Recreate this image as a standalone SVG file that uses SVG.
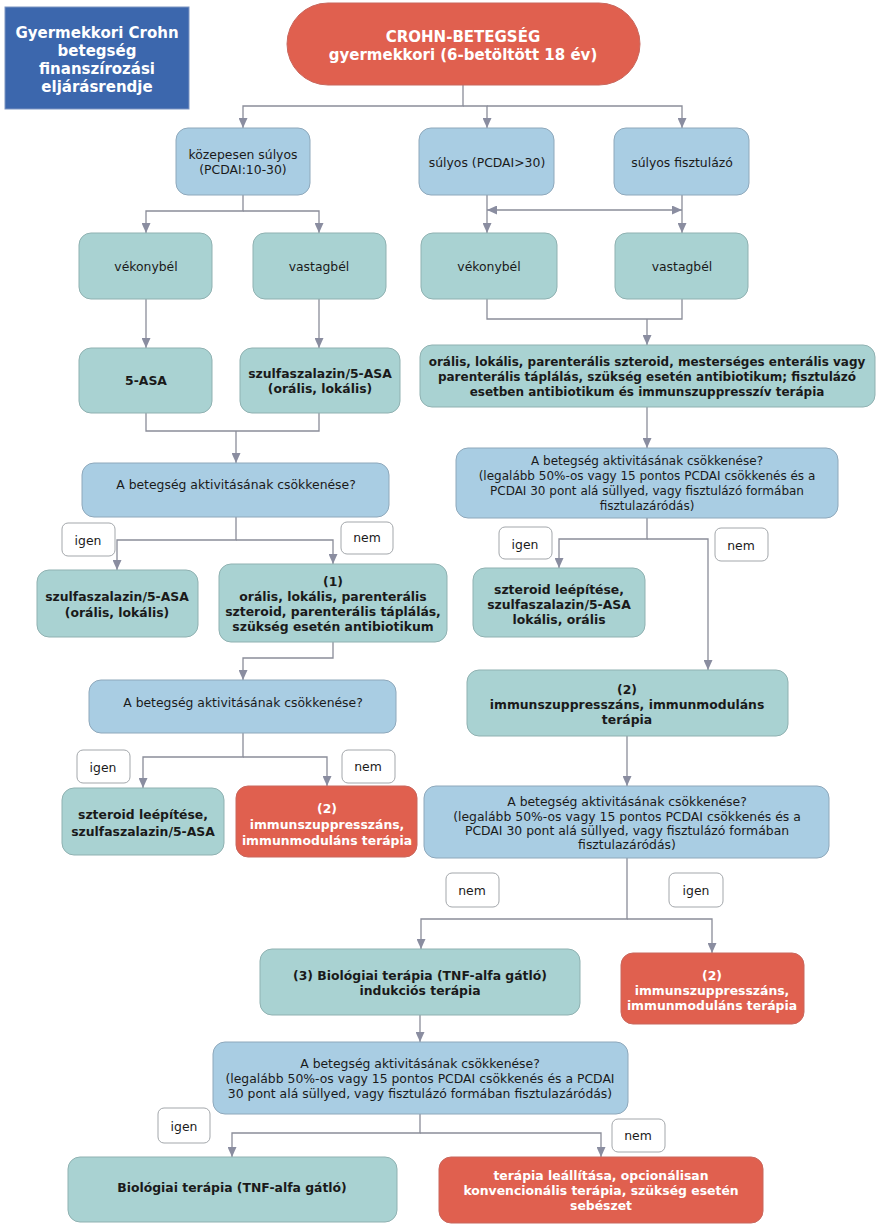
<svg xmlns="http://www.w3.org/2000/svg" width="878" height="1228" viewBox="0 0 878 1228">
<style>
.bl{fill:#a9cde3;stroke:#8ea8bb;stroke-width:1}
.tl{fill:#a9d2d2;stroke:#8fb1b1;stroke-width:1}
.rd{fill:#e0604f;stroke:#c9675d;stroke-width:1}
.lb{fill:#ffffff;stroke:#a3a7ab;stroke-width:1}
.c{fill:none;stroke:#8a8d99;stroke-width:1.3}
text{font-family:"DejaVu Sans","Verdana",sans-serif;text-anchor:middle;font-size:12.4px;fill:#1a1a1a}
.b{font-weight:bold;font-size:12.4px}
.w{font-weight:bold;fill:#ffffff;font-size:12.4px}
.t{font-size:15px}
</style>
<defs>
<marker id="ah" viewBox="0 0 10 9" refX="10" refY="4.5" markerWidth="10" markerHeight="9" markerUnits="userSpaceOnUse" orient="auto-start-reverse">
<path d="M0,0 L10,4.5 L0,9 z" fill="#8a8da0"/>
</marker>
</defs>
<rect width="878" height="1228" fill="#ffffff"/>

<g id="connectors">
<path class="c" d="M463,85 V106 H243 V128" marker-end="url(#ah)"/>
<path class="c" d="M463,106 H487 V128" marker-end="url(#ah)"/>
<path class="c" d="M487,106 H682 V128" marker-end="url(#ah)"/>
<path class="c" d="M243,195 V211 H146 V233" marker-end="url(#ah)"/>
<path class="c" d="M243,211 H319 V233" marker-end="url(#ah)"/>
<path class="c" d="M487,195 V233" marker-end="url(#ah)"/>
<path class="c" d="M682,195 V233" marker-end="url(#ah)"/>
<path class="c" d="M487,210 H682" marker-start="url(#ah)" marker-end="url(#ah)"/>
<path class="c" d="M146,299 V348" marker-end="url(#ah)"/>
<path class="c" d="M319,299 V348" marker-end="url(#ah)"/>
<path class="c" d="M487,299 V319 H682 V299"/>
<path class="c" d="M647,319 V345" marker-end="url(#ah)"/>
<path class="c" d="M146,413 V431 H319 V413"/>
<path class="c" d="M236,431 V463" marker-end="url(#ah)"/>
<path class="c" d="M647,407 V448" marker-end="url(#ah)"/>
<path class="c" d="M236,517 V540 H117 V570" marker-end="url(#ah)"/>
<path class="c" d="M236,540 H333 V564" marker-end="url(#ah)"/>
<path class="c" d="M647,518 V539 H559 V568" marker-end="url(#ah)"/>
<path class="c" d="M647,539 H708 V670" marker-end="url(#ah)"/>
<path class="c" d="M333,642 V658 H243 V680" marker-end="url(#ah)"/>
<path class="c" d="M243,733 V757 H143 V788" marker-end="url(#ah)"/>
<path class="c" d="M243,757 H327 V786" marker-end="url(#ah)"/>
<path class="c" d="M627,736 V786" marker-end="url(#ah)"/>
<path class="c" d="M627,858 V919 H421 V949" marker-end="url(#ah)"/>
<path class="c" d="M627,919 H712 V953" marker-end="url(#ah)"/>
<path class="c" d="M420,1015 V1042" marker-end="url(#ah)"/>
<path class="c" d="M420,1114 V1133 H232 V1157" marker-end="url(#ah)"/>
<path class="c" d="M420,1133 H601 V1157" marker-end="url(#ah)"/>
</g>

<g id="title">
<rect x="5" y="7" width="184" height="102" fill="#3c67ad" stroke="#7d95c2" stroke-width="1"/>
<text class="w t"><tspan x="97" y="38">Gyermekkori Crohn</tspan><tspan x="97" y="56">betegség</tspan><tspan x="97" y="74">finanszírozási</tspan><tspan x="97" y="92">eljárásrendje</tspan></text>
</g>

<g id="start">
<rect class="rd" x="287" y="3" width="353" height="82" rx="41"/>
<text class="w t"><tspan x="463" y="42">CROHN-BETEGSÉG</tspan><tspan x="463" y="60">gyermekkori (6-betöltött 18 év)</tspan></text>
</g>

<g id="kozepes">
<rect class="bl" x="176" y="128" width="134" height="67" rx="12"/>
<text><tspan x="243" y="159">közepesen súlyos</tspan><tspan x="243" y="174">(PCDAI:10-30)</tspan></text>
</g>
<g id="sulyos">
<rect class="bl" x="419" y="128" width="135" height="67" rx="12"/>
<text x="487" y="167">súlyos (PCDAI&gt;30)</text>
</g>
<g id="fisztulazo">
<rect class="bl" x="614" y="128" width="135" height="67" rx="12"/>
<text x="682" y="167">súlyos fisztulázó</text>
</g>

<g id="vekony-l">
<rect class="tl" x="79" y="233" width="133" height="66" rx="12"/>
<text x="146" y="271">vékonybél</text>
</g>
<g id="vastag-l">
<rect class="tl" x="253" y="233" width="133" height="66" rx="12"/>
<text x="319" y="271">vastagbél</text>
</g>
<g id="vekony-r">
<rect class="tl" x="421" y="233" width="136" height="66" rx="12"/>
<text x="489" y="271">vékonybél</text>
</g>
<g id="vastag-r">
<rect class="tl" x="615" y="233" width="133" height="66" rx="12"/>
<text x="682" y="271">vastagbél</text>
</g>

<g id="asa">
<rect class="tl" x="79" y="348" width="133" height="65" rx="12"/>
<text class="b" x="146" y="385">5-ASA</text>
</g>
<g id="szulfa1">
<rect class="tl" x="240" y="348" width="160" height="65" rx="12"/>
<text class="b"><tspan x="320" y="378">szulfaszalazin/5-ASA</tspan><tspan x="320" y="393">(orális, lokális)</tspan></text>
</g>
<g id="szteroid-r">
<rect class="tl" x="420" y="345" width="455" height="62" rx="12"/>
<text class="b" style="font-size:12px"><tspan x="647" y="366">orális, lokális, parenterális szteroid, mesterséges enterális vagy</tspan><tspan x="647" y="381">parenterális táplálás, szükség esetén antibiotikum; fisztulázó</tspan><tspan x="647" y="396">esetben antibiotikum és immunszuppresszív terápia</tspan></text>
</g>

<g id="dontes-l1">
<rect class="bl" x="82" y="463" width="307" height="54" rx="12"/>
<text x="236" y="489">A betegség aktivitásának csökkenése?</text>
</g>
<g id="dontes-r1">
<rect class="bl" x="456" y="448" width="382" height="70" rx="12"/>
<text style="font-size:12px"><tspan x="647" y="465">A betegség aktivitásának csökkenése?</tspan><tspan x="647" y="480">(legalább 50%-os vagy 15 pontos PCDAI csökkenés és a</tspan><tspan x="647" y="495">PCDAI 30 pont alá süllyed, vagy fisztulázó formában</tspan><tspan x="647" y="510">fisztulazáródás)</tspan></text>
</g>

<g id="l-igen1"><rect class="lb" x="62" y="523" width="53" height="33" rx="6"/><text x="88" y="545">igen</text></g>
<g id="l-nem1"><rect class="lb" x="341" y="522" width="52" height="32" rx="6"/><text x="367" y="542">nem</text></g>
<g id="r-igen1"><rect class="lb" x="499" y="527" width="53" height="32" rx="6"/><text x="525" y="549">igen</text></g>
<g id="r-nem1"><rect class="lb" x="715" y="528" width="53" height="33" rx="6"/><text x="741" y="550">nem</text></g>

<g id="szulfa2">
<rect class="tl" x="37" y="570" width="161" height="67" rx="12"/>
<text class="b"><tspan x="117" y="601">szulfaszalazin/5-ASA</tspan><tspan x="117" y="617">(orális, lokális)</tspan></text>
</g>
<g id="kezeles1">
<rect class="tl" x="219" y="564" width="228" height="78" rx="12"/>
<text class="b"><tspan x="333" y="586">(1)</tspan><tspan x="333" y="601">orális, lokális, parenterális</tspan><tspan x="333" y="616">szteroid, parenterális táplálás,</tspan><tspan x="333" y="631">szükség esetén antibiotikum</tspan></text>
</g>
<g id="szteroid-lee-r">
<rect class="tl" x="473" y="568" width="172" height="69" rx="12"/>
<text class="b"><tspan x="559" y="594">szteroid leépítése,</tspan><tspan x="559" y="609">szulfaszalazin/5-ASA</tspan><tspan x="559" y="624">lokális, orális</tspan></text>
</g>

<g id="immun-r">
<rect class="tl" x="467" y="670" width="321" height="66" rx="12"/>
<text class="b"><tspan x="627" y="694">(2)</tspan><tspan x="627" y="709">immunszuppresszáns, immunmoduláns</tspan><tspan x="627" y="724">terápia</tspan></text>
</g>

<g id="dontes-l2">
<rect class="bl" x="89" y="680" width="307" height="53" rx="12"/>
<text x="243" y="707">A betegség aktivitásának csökkenése?</text>
</g>
<g id="l-igen2"><rect class="lb" x="77" y="750" width="53" height="33" rx="6"/><text x="103" y="772">igen</text></g>
<g id="l-nem2"><rect class="lb" x="342" y="750" width="53" height="33" rx="6"/><text x="368" y="771">nem</text></g>

<g id="szteroid-lee-l">
<rect class="tl" x="62" y="788" width="162" height="67" rx="12"/>
<text class="b"><tspan x="143" y="819">szteroid leépítése,</tspan><tspan x="143" y="836">szulfaszalazin/5-ASA</tspan></text>
</g>
<g id="immun-l">
<rect class="rd" x="236" y="786" width="181" height="71" rx="12"/>
<text class="w"><tspan x="327" y="813">(2)</tspan><tspan x="327" y="829">immunszuppresszáns,</tspan><tspan x="327" y="845">immunmoduláns terápia</tspan></text>
</g>

<g id="dontes-r2">
<rect class="bl" x="424" y="786" width="405" height="72" rx="12"/>
<text><tspan x="627" y="806">A betegség aktivitásának csökkenése?</tspan><tspan x="627" y="821">(legalább 50%-os vagy 15 pontos PCDAI csökkenés és a</tspan><tspan x="627" y="835">PCDAI 30 pont alá süllyed, vagy fisztulázó formában</tspan><tspan x="627" y="849">fisztulazáródás)</tspan></text>
</g>
<g id="r-nem2"><rect class="lb" x="446" y="873" width="53" height="34" rx="6"/><text x="472" y="895">nem</text></g>
<g id="r-igen2"><rect class="lb" x="669" y="873" width="54" height="34" rx="6"/><text x="696" y="895">igen</text></g>

<g id="biologiai-ind">
<rect class="tl" x="260" y="949" width="320" height="66" rx="12"/>
<text class="b"><tspan x="420" y="980">(3) Biológiai terápia (TNF-alfa gátló)</tspan><tspan x="420" y="995">indukciós terápia</tspan></text>
</g>
<g id="immun-r2">
<rect class="rd" x="621" y="953" width="183" height="71" rx="12"/>
<text class="w"><tspan x="712" y="980">(2)</tspan><tspan x="712" y="995">immunszuppresszáns,</tspan><tspan x="712" y="1010">immunmoduláns terápia</tspan></text>
</g>

<g id="dontes-3">
<rect class="bl" x="213" y="1042" width="415" height="72" rx="12"/>
<text><tspan x="420" y="1068">A betegség aktivitásának csökkenése?</tspan><tspan x="420" y="1083">(legalább 50%-os vagy 15 pontos PCDAI csökkenés és a PCDAI</tspan><tspan x="420" y="1098">30 pont alá süllyed, vagy fisztulázó formában fisztulazáródás)</tspan></text>
</g>
<g id="b-igen"><rect class="lb" x="158" y="1108" width="52" height="35" rx="6"/><text x="184" y="1131">igen</text></g>
<g id="b-nem"><rect class="lb" x="612" y="1119" width="53" height="33" rx="6"/><text x="638" y="1140">nem</text></g>

<g id="biologiai">
<rect class="tl" x="68" y="1157" width="329" height="65" rx="12"/>
<text class="b" x="232" y="1192">Biológiai terápia (TNF-alfa gátló)</text>
</g>
<g id="leallitas">
<rect class="rd" x="439" y="1157" width="324" height="66" rx="12"/>
<text class="w"><tspan x="601" y="1180">terápia leállítása, opcionálisan</tspan><tspan x="601" y="1195">konvencionális terápia, szükség esetén</tspan><tspan x="601" y="1210">sebészet</tspan></text>
</g>
</svg>
